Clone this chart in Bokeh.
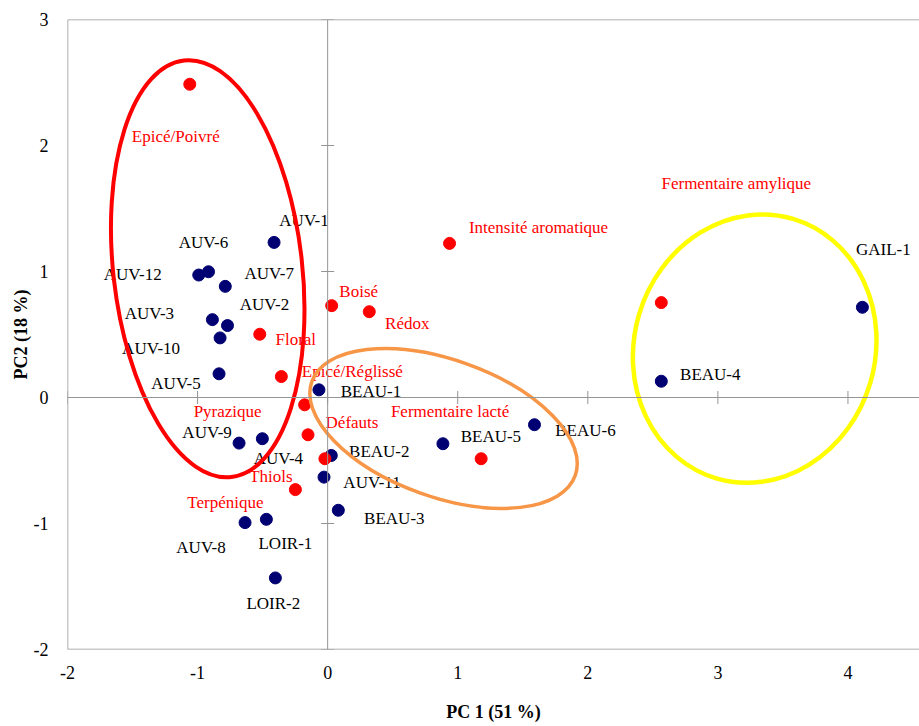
import math
from bokeh.plotting import figure
from bokeh.models import Range1d, Span, FixedTicker, ColumnDataSource, CustomJSTickFormatter
from bokeh.core.properties import value
from bokeh.embed import file_html
from bokeh.resources import INLINE

# ---- data ----
sample_names = ["AUV-1", "AUV-6", "AUV-12", "AUV-7", "AUV-2", "AUV-3", "AUV-10", "AUV-5",
                "BEAU-1", "AUV-9", "AUV-4", "BEAU-2", "AUV-11", "BEAU-3", "AUV-8", "LOIR-1",
                "LOIR-2", "BEAU-5", "BEAU-6", "BEAU-4", "GAIL-1"]
sample_pc1 = [-0.412, -0.916, -0.991, -0.787, -0.770, -0.886, -0.827, -0.835,
              -0.067, -0.681, -0.502, 0.028, -0.028, 0.082, -0.635, -0.471,
              -0.402, 0.886, 1.590, 2.565, 4.111]
sample_pc2 = [1.231, 0.998, 0.972, 0.882, 0.571, 0.618, 0.473, 0.188,
              0.061, -0.362, -0.327, -0.460, -0.632, -0.895, -0.993, -0.967,
              -1.432, -0.367, -0.216, 0.129, 0.716]

attr_names = ["Epicé/Poivré", "Intensité aromatique", "Fermentaire amylique", "Boisé", "Rédox",
              "Floral", "Epicé/Réglissé", "Pyrazique", "Défauts", "Thiols", "Terpénique",
              "Fermentaire lacté"]
attr_pc1 = [-1.060, 0.937, 2.565, 0.031, 0.320, -0.522, -0.356, -0.177, -0.151, -0.021, -0.248, 1.180]
attr_pc2 = [2.486, 1.223, 0.753, 0.729, 0.681, 0.502, 0.166, -0.058, -0.296, -0.486, -0.731, -0.486]

x_ticks = [-2, -1, 0, 1, 2, 3, 4]
y_ticks = [-2, -1, 0, 1, 2, 3]

x_title = "PC 1 (51 %)"
y_title = "PC2 (18 %)"

# groups drawn as ellipses: centre (pc1, pc2), width, height (data units), tilt (degrees)
group_cx = [-0.922, 0.891, 3.283]
group_cy = [1.022, -0.246, 0.388]
group_w = [1.452, 2.15, 1.854]
group_h = [3.328, 1.09, 2.149]
group_tilt = [6.5, -19.6, -16.5]

# ---- label placement (screen px offsets from each point) ----
sample_dx = [30, -5, -66, 44, 37, -63, -69, -43, 52, -32, 16, 48, 48, 56, -44, 19, -2, 48, 51, 49, 21]
sample_dy = [-22, -29, -1, -13, -21, -6, 11, 10, 2, -11, 20, -4, 5, 8, 25, 24, 26, -7, 6, -7, -58]
attr_dx = [-14, 89, 75, 27, 38, 36, 71, -77, 44, -54, -70, -31]
attr_dy = [52, -16, -119, -14, 12, 5, -5, 7, -12, 18, 13, -47]

SERIF = "Liberation Serif"
BLUE = "#000073"
RED = "#FF0000"
GRAY = "#959595"

p = figure(width=919, height=726,
           x_range=Range1d(-2, 4.55), y_range=Range1d(-2, 3),
           output_backend="svg", toolbar_location=None,
           min_border_left=67, min_border_right=0,
           min_border_top=19, min_border_bottom=77)
p.xgrid.visible = False
p.ygrid.visible = False
p.outline_line_color = None
p.background_fill_color = "white"
p.border_fill_color = "white"

fmt = CustomJSTickFormatter(code="return tick.toString();")
for ax, ticks in ((p.xaxis, x_ticks), (p.yaxis, y_ticks)):
    ax.ticker = FixedTicker(ticks=ticks)
    ax.formatter = fmt
    ax.axis_line_color = None
    ax.major_tick_line_color = None
    ax.minor_tick_line_color = None
    ax.major_label_text_font = SERIF
    ax.major_label_text_font_size = "18px"
    ax.major_label_text_color = "black"
    ax.axis_label_text_font = SERIF
    ax.axis_label_text_font_size = "18px"
    ax.axis_label_text_font_style = "bold"
    ax.axis_label_text_color = "black"

p.xaxis.axis_label = x_title
p.yaxis.axis_label = y_title
p.xaxis.major_label_standoff = 10
p.xaxis.axis_label_standoff = 20
p.yaxis.major_label_standoff = 13
p.yaxis.axis_label_standoff = 0

# frame (left, top, bottom) and zero axes
p.add_layout(Span(location=-2, dimension="height", line_color=GRAY, line_width=1.5))
p.add_layout(Span(location=3, dimension="width", line_color=GRAY, line_width=1.5))
p.add_layout(Span(location=-2, dimension="width", line_color=GRAY, line_width=1.5))
p.add_layout(Span(location=0, dimension="height", line_color=GRAY, line_width=1))
p.add_layout(Span(location=0, dimension="width", line_color=GRAY, line_width=1))

# cross tick marks on the zero axes
p.scatter(x=x_ticks, y=[0] * len(x_ticks), marker="dash", size=13, angle=math.pi / 2,
          line_color=GRAY, line_width=1)
p.scatter(x=[0] * len(y_ticks), y=y_ticks, marker="dash", size=13,
          line_color=GRAY, line_width=1)

# points
samples = ColumnDataSource(dict(x=sample_pc1, y=sample_pc2, name=sample_names,
                                dx=sample_dx, dy=sample_dy))
attrs = ColumnDataSource(dict(x=attr_pc1, y=attr_pc2, name=attr_names,
                              dx=attr_dx, dy=attr_dy))

p.scatter("x", "y", source=samples, size=12, fill_color=BLUE, line_color=BLUE)
p.scatter("x", "y", source=attrs, size=12, fill_color=RED, line_color=RED)

p.text("x", "y", text="name", source=samples, x_offset="dx", y_offset="dy",
       text_font=value(SERIF), text_font_size="17px", text_color="black",
       text_align="center", text_baseline="middle")
p.text("x", "y", text="name", source=attrs, x_offset="dx", y_offset="dy",
       text_font=value(SERIF), text_font_size="17px", text_color=RED,
       text_align="center", text_baseline="middle")

# group ellipses
ell_colors = ["#FF0000", "#F79646", "#FFFF00"]
ell_widths = [4, 3.5, 4.5]
for cx, cy, w, h, t, c, lw in zip(group_cx, group_cy, group_w, group_h, group_tilt,
                                   ell_colors, ell_widths):
    p.ellipse(x=[cx], y=[cy], width=[w], height=[h], angle=[math.radians(t)],
              fill_color=None, line_color=c, line_width=lw)

open("out.html", "w").write(file_html(p, INLINE))
